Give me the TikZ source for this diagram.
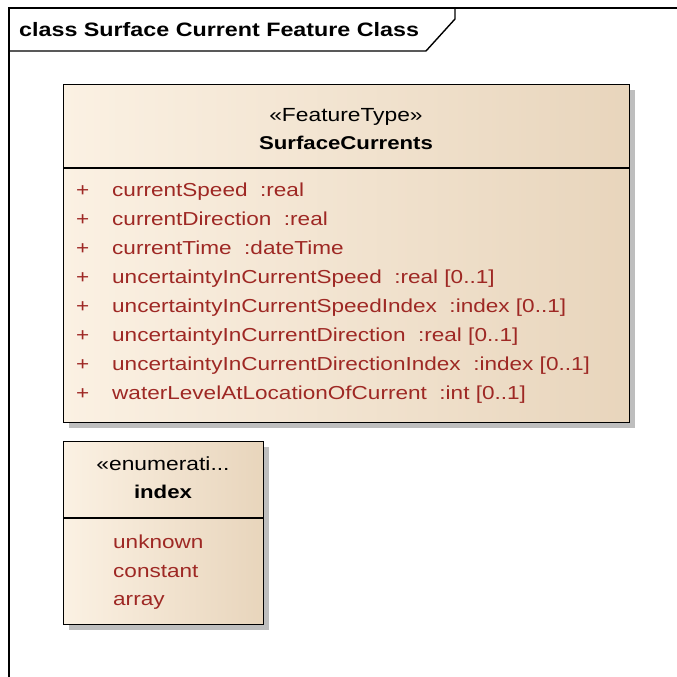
\documentclass[tikz,border=0pt]{standalone}
\usepackage{fontspec}
\setmainfont{Liberation Sans}[FakeStretch=1.2]
\usetikzlibrary{positioning,shadows}

\definecolor{attrred}{RGB}{158,40,36}
\definecolor{boxlight}{RGB}{251,241,227}
\definecolor{boxdark}{RGB}{232,213,188}
\definecolor{shadowgray}{RGB}{190,190,190}

\begin{document}
\begin{tikzpicture}[x=1pt,y=1pt,
    umlbox/.style={draw=black,line width=1.4pt,left color=boxlight,right color=boxdark,
      anchor=north west,inner sep=0pt,
      drop shadow={shadow xshift=5pt,shadow yshift=-5pt,fill=shadowgray,opacity=1}},
    stereo/.style={anchor=base,inner sep=0pt,font=\fontsize{19}{20}\selectfont},
    cname/.style={anchor=base,inner sep=0pt,font=\fontsize{18.5}{20}\selectfont\bfseries},
    attr/.style={anchor=base west,inner sep=0pt,text=attrred,font=\fontsize{18.8}{20}\selectfont},
    sep/.style={line width=1.4pt}]
  \useasboundingbox (0,0) rectangle (677,-677);

  % diagram frame
  \coordinate (fbl) at (9,-677);
  \coordinate (ftl) at (9,-8);
  \coordinate (ftr) at (677,-8);
  \draw[line width=1.4pt] (fbl) -- (ftl) -- (ftr);
  \node[anchor=base west,inner sep=0pt,font=\fontsize{19.4}{20}\selectfont\bfseries] (title) at (19,-37)
    {class Surface Current Feature Class};
  \draw[line width=1.4pt] (9,-51) -- (426,-51) -- (455,-19) -- (455,-8);

  % feature type
  \node[umlbox,minimum width=566,minimum height=338] (sc) at (63,-84) {};
  \coordinate (schead) at (63,-168);
  \draw[sep] (schead) -- (schead -| sc.east);
  \node[stereo] (scst) at (346,-121) {«FeatureType»};
  \node[cname] (scname) at (346,-149) {SurfaceCurrents};
  \foreach \a [count=\i] in {
      {currentSpeed\ \ :real},
      {currentDirection\ \ :real},
      {currentTime\ \ :dateTime},
      {uncertaintyInCurrentSpeed\ \ :real [0..1]},
      {uncertaintyInCurrentSpeedIndex\ \ :index [0..1]},
      {uncertaintyInCurrentDirection\ \ :real [0..1]},
      {uncertaintyInCurrentDirectionIndex\ \ :index [0..1]},
      {waterLevelAtLocationOfCurrent\ \ :int [0..1]}} {
    \node[attr] (scp\i) at (76,{-196-29*(\i-1)}) {+};
    \node[attr] (sca\i) at (112,{-196-29*(\i-1)}) {\a};
  }

  % enumeration
  \node[umlbox,minimum width=200,minimum height=183] (idx) at (63,-441) {};
  \coordinate (idxhead) at (63,-518);
  \draw[sep] (idxhead) -- (idxhead -| idx.east);
  \node[stereo] (idxst) at (163,-470) {«enumerati...};
  \node[cname] (idxname) at (163,-498) {index};
  \node[attr] (lit1) at (113,-548) {unknown};
  \node[attr] (lit2) at (113,-577) {constant};
  \node[attr] (lit3) at (113,-605) {array};
\end{tikzpicture}
\end{document}
